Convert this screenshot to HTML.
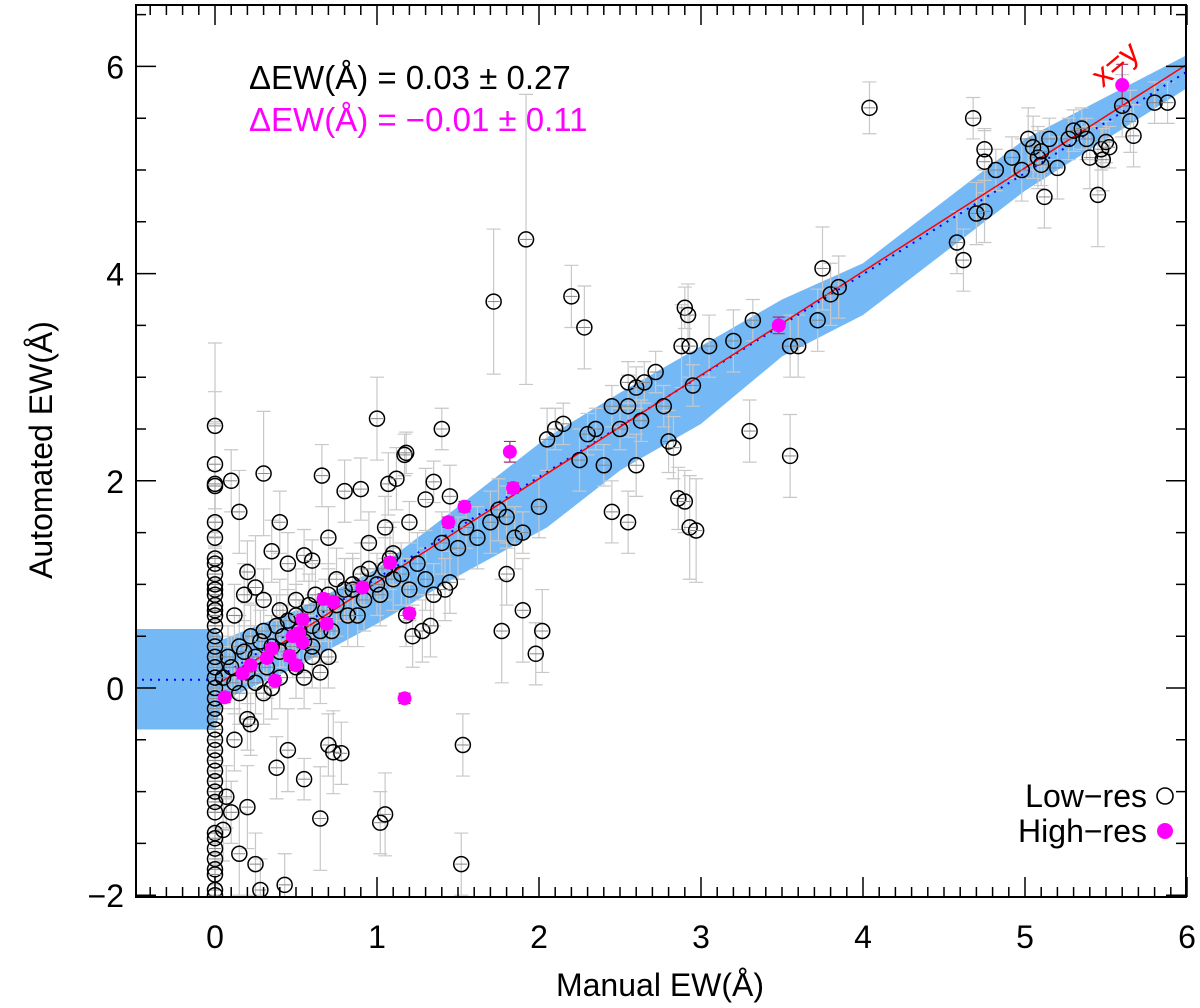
<!DOCTYPE html>
<html><head><meta charset="utf-8"><style>
body{margin:0;background:#fff;}
svg{display:block;font-family:"Liberation Sans",Arial,sans-serif;}
</style></head><body>
<svg id="chart" width="1200" height="1008" viewBox="0 0 1200 1008" xmlns="http://www.w3.org/2000/svg">
<defs><clipPath id="clip"><rect x="136" y="5" width="1050" height="892"/></clipPath></defs>
<g clip-path="url(#clip)">
<g id="band"></g>
<g id="errs"></g>
<g id="lines"></g>
<g id="pts"></g>
</g>
<g id="axes"></g>
<text x="249" y="89" font-size="33" fill="#000">ΔEW(Å) = 0.03 ± 0.27</text>
<text x="249" y="131" font-size="33" fill="#ff00ff">ΔEW(Å) = −0.01 ± 0.11</text>
<text x="1122" y="72" font-size="32" fill="#ff0000" transform="rotate(-40 1122 72)" text-anchor="middle">x=y</text>
<g>
<text x="1147" y="807" font-size="32" text-anchor="end">Low−res</text>
<circle cx="1165" cy="796" r="8" fill="none" stroke="#000" stroke-width="1.6"/>
<text x="1147" y="842" font-size="32" text-anchor="end">High−res</text>
<circle cx="1165" cy="831" r="8" fill="#ff00ff"/>
</g>
<text x="660" y="996" font-size="32" text-anchor="middle">Manual EW(Å)</text>
<text x="52" y="450" font-size="32" text-anchor="middle" transform="rotate(-90 52 450)">Automated EW(Å)</text>
</svg>
<script>
const xTicks=[0,1,2,3,4,5,6];
const yTicks=[-2,0,2,4,6];
const bandX=[-0.5,0,0.05,0.5,1.0,1.5,2.05,2.5,3.0,3.5,4.0,5.0,6.0];
const bandLo=[-0.4,-0.4,-0.12,0.2,0.62,1.08,1.55,2.1,2.55,3.2,3.6,4.8,5.79];
const bandHi=[0.57,0.57,0.47,0.75,1.15,1.75,2.42,2.85,3.3,3.75,4.1,5.3,6.11];
const fitX=[-0.5,0,6];
const fitY=[0.08,0.08,5.95];
const lowX=[0,0,0,0,0,0,0,0,0,0,0,0,0,0,0,0,0,0,0,0,0,0,0,0,0,0,0,0,0,0,0,0,0,0,0,0,0,0,0,0,0,0,
0.1,0.15,0.2,0.25,0.3,0.35,0.4,0.45,0.55,0.6,0.5,0.66,0.8,0.9,1.0,1.07,1.12,1.17,1.18,1.3,1.35,1.4,1.45,1.2,0.7,0.75,0.85,0.95,1.05,1.1,1.25,1.3,1.35,1.4,1.5,1.55,1.62,1.7,1.75,1.8,1.72,1.92,1.8,1.77,1.9,1.98,2.02,1.85,1.9,2.0,2.05,2.1,2.15,2.2,2.28,2.25,2.3,2.35,2.45,2.4,2.45,2.5,2.55,2.55,2.55,2.6,2.6,2.63,2.65,2.72,2.77,2.8,2.83,2.86,2.9,2.88,2.9,2.92,2.93,2.95,2.93,2.97,3.05,3.2,3.32,3.3,3.55,3.55,3.6,3.72,3.75,3.8,3.85,4.04,4.58,4.62,4.68,4.7,4.75,4.75,4.75,4.82,4.92,4.98,5.02,5.05,5.08,5.1,5.1,5.12,5.15,5.2,5.27,5.3,5.35,5.38,5.4,5.45,5.47,5.48,5.5,5.52,5.6,5.65,5.67,5.8,5.88,
0.43,0.38,0.55,0.65,0.7,0.73,0.78,1.02,1.05,1.52,1.53,0.45,0.1,0.2,0.25,0.15,0.28,0.05,0.07,0.12,0.2,0.22,
0.05,0.08,0.1,0.12,0.15,0.18,0.2,0.22,0.25,0.28,0.3,0.32,0.35,0.38,0.4,0.42,0.45,0.48,0.5,0.52,0.55,0.58,0.6,0.62,0.65,0.68,0.7,0.75,0.8,0.82,0.85,0.9,0.92,0.95,1.0,1.02,1.05,1.08,1.1,1.15,1.2,0.3,0.35,0.4,0.5,0.55,0.6,0.65,0.7,0.25,0.15,0.12,0.18,0.3,0.4,0.6,0.72,0.88,1.18,1.22,1.28,1.33,1.45,1.42];
const lowY=[2.53,2.16,1.97,1.95,1.6,1.45,1.25,1.2,1.1,1.0,0.95,0.9,0.8,0.75,0.7,0.6,0.5,0.4,0.3,0.2,0.1,0.0,-0.1,-0.2,-0.3,-0.4,-0.5,-0.6,-0.7,-0.8,-0.9,-1.0,-1.1,-1.2,-1.4,-1.45,-1.55,-1.65,-1.75,-1.8,-1.95,-2.0,
2.0,1.7,1.12,0.97,2.07,1.32,1.6,1.2,1.28,1.23,0.85,2.05,1.9,1.92,2.6,1.97,2.02,2.25,2.27,1.82,1.99,2.5,1.85,1.6,1.45,1.05,0.95,1.4,1.55,1.3,1.2,1.05,0.9,1.4,1.35,1.55,1.45,1.6,1.72,1.65,3.73,4.33,1.1,0.55,0.75,0.33,0.55,1.45,1.5,1.75,2.4,2.5,2.55,3.78,3.48,2.2,2.45,2.5,1.7,2.15,2.72,2.5,2.72,1.6,2.95,2.9,2.15,2.58,2.95,3.05,2.72,2.38,2.32,1.83,1.8,3.3,3.67,3.6,3.3,2.92,1.55,1.52,3.3,3.35,3.55,2.48,2.24,3.3,3.3,3.55,4.05,3.8,3.87,5.6,4.3,4.13,5.5,4.58,4.6,5.08,5.2,5.0,5.12,5.0,5.3,5.22,5.12,5.05,5.18,4.74,5.3,5.02,5.3,5.38,5.4,5.3,5.12,4.76,5.2,5.1,5.27,5.22,5.62,5.47,5.33,5.65,5.65,
-1.9,-0.77,-0.88,-1.26,-0.55,-0.62,-0.63,-1.3,-1.22,-1.7,-0.55,-0.6,-1.2,-1.15,-1.7,-1.6,-1.95,-1.37,-1.05,-0.5,-0.3,-0.35,
0.1,0.3,0.2,0.05,0.4,0.35,0.15,0.5,0.3,0.45,0.55,0.2,0.4,0.6,0.35,0.5,0.65,0.4,0.7,0.55,0.45,0.8,0.6,0.9,0.55,0.75,0.9,0.8,0.95,0.7,1.0,1.1,0.85,1.15,1.0,0.9,1.15,1.25,1.05,1.1,0.95,-0.05,0.0,0.1,0.2,0.1,0.3,0.15,0.3,0.05,-0.05,0.7,0.9,0.85,0.75,0.4,0.55,0.7,0.7,0.5,0.55,0.6,1.02,0.95];
const lowErr=[0.8,0.7,0.6,0.6,0.5,0.5,0.4,0.4,0.4,0.3,0.3,0.3,0.3,0.3,0.3,0.3,0.3,0.3,0.3,0.3,0.3,0.3,0.3,0.3,0.3,0.3,0.4,0.4,0.4,0.4,0.5,0.5,0.5,0.5,0.5,0.6,0.6,0.6,0.6,0.6,0.6,0.6,
0.3,0.4,0.3,0.5,0.6,0.3,0.3,0.3,0.25,0.2,0.3,0.3,0.3,0.3,0.4,0.3,0.3,0.2,0.2,0.3,0.2,0.2,0.3,0.2,0.3,0.3,0.3,0.3,0.3,0.3,0.3,0.3,0.3,0.3,0.3,0.2,0.3,0.3,0.3,0.3,0.7,1.4,0.3,0.5,0.5,0.3,0.4,0.3,0.2,0.3,0.3,0.2,0.2,0.3,0.4,0.3,0.2,0.2,0.3,0.2,0.2,0.2,0.3,0.3,0.2,0.2,0.3,0.2,0.2,0.2,0.2,0.3,0.3,0.3,0.3,0.4,0.2,0.3,0.3,0.2,0.5,0.5,0.3,0.3,0.2,0.3,0.4,0.3,0.3,0.3,0.4,0.3,0.3,0.25,0.3,0.3,0.2,0.3,0.3,0.3,0.2,0.2,0.2,0.3,0.3,0.3,0.3,0.2,0.2,0.3,0.2,0.3,0.2,0.2,0.2,0.2,0.3,0.5,0.2,0.3,0.2,0.2,0.3,0.3,0.3,0.2,0.2,
0.3,0.3,0.2,0.5,0.3,0.4,0.3,0.3,0.4,0.3,0.3,0.4,0.3,0.4,0.3,0.4,0.3,0.3,0.3,0.3,0.3,0.3,
0.3,0.3,0.3,0.3,0.3,0.3,0.3,0.3,0.3,0.3,0.3,0.3,0.3,0.3,0.3,0.3,0.3,0.3,0.3,0.3,0.3,0.3,0.3,0.3,0.3,0.3,0.3,0.3,0.3,0.3,0.3,0.3,0.3,0.3,0.3,0.3,0.3,0.3,0.3,0.3,0.3,0.3,0.3,0.3,0.3,0.3,0.3,0.3,0.3,0.3,0.3,0.3,0.3,0.3,0.3,0.3,0.3,0.3,0.3,0.3,0.3,0.3,0.3,0.3];
const highX=[0.06,0.17,0.22,0.32,0.35,0.37,0.46,0.5,0.48,0.52,0.54,0.54,0.67,0.73,0.69,0.91,1.08,1.2,1.17,1.44,1.54,1.82,1.84,3.48,5.6];
const highY=[-0.09,0.14,0.22,0.29,0.38,0.07,0.31,0.22,0.5,0.53,0.66,0.44,0.86,0.83,0.62,0.97,1.21,0.72,-0.1,1.6,1.75,2.28,1.93,3.5,5.82];
const highErr=[0.05,0.05,0.05,0.05,0.05,0.05,0.05,0.05,0.05,0.05,0.05,0.05,0.05,0.05,0.05,0.05,0.05,0.05,0.05,0.05,0.05,0.1,0.05,0.08,0.2];

const NS="http://www.w3.org/2000/svg";
const L=136,R=1186,T=5,B=897;
function sx(v){return 215+v*162.0;}
function sy(v){return 688-v*103.6;}
function mk(tag,parent,attrs){const e=document.createElementNS(NS,tag);for(const k in attrs)e.setAttribute(k,attrs[k]);parent.appendChild(e);return e;}
const band=document.getElementById('band');
let d='';
bandX.forEach((x,i)=>{d+=(i?'L':'M')+sx(x)+','+sy(bandHi[i]);});
for(let i=bandX.length-1;i>=0;i--)d+='L'+sx(bandX[i])+','+sy(bandLo[i]);
const bp=mk('path',band,{d:d+'Z',fill:'#74b9f5'});



const errs=document.getElementById('errs');
const pts=document.getElementById('pts');
lowX.forEach((x,i)=>{
  const px=sx(x),py=sy(lowY[i]),e=lowErr[i]*103.6;
  const g=mk('path',errs,{d:`M${px},${py-e}V${py+e}M${px-7},${py-e}H${px+7}M${px-7},${py+e}H${px+7}`,stroke:'#c8c8c8','stroke-width':1.2,fill:'none'});
  
  
});
highX.forEach((x,i)=>{
  const px=sx(x),py=sy(highY[i]),e=highErr[i]*103.6;
  const g=mk('path',errs,{d:`M${px},${py-e}V${py+e}M${px-6},${py-e}H${px+6}M${px-6},${py+e}H${px+6}`,stroke:'#a0306a','stroke-width':1.2,fill:'none'});
  
  
});
const lines=document.getElementById('lines');
let fd='';fitX.forEach((x,i)=>{fd+=(i?'L':'M')+sx(x)+','+sy(fitY[i]);});
const fl=mk('path',lines,{d:fd,stroke:'#0000ff','stroke-width':2,'stroke-dasharray':'2,6',fill:'none'});


const xl=mk('line',lines,{x1:sx(0),y1:sy(0.02),x2:sx(6),y2:sy(6.02),stroke:'#ff0000','stroke-width':1.5});



lowX.forEach((x,i)=>{
  const px=sx(x),py=sy(lowY[i]);
  const c=mk('circle',pts,{cx:px,cy:py,r:7.5,fill:'none',stroke:'#000','stroke-width':1.5});
  
  
  const h=mk('line',pts,{x1:px-6,y1:py,x2:px+6,y2:py,stroke:'#888','stroke-width':1});
  
  
});
highX.forEach((x,i)=>{
  const c=mk('circle',pts,{cx:sx(x),cy:sy(highY[i]),r:7,fill:'#ff00ff'});
  
  
});

const ax=document.getElementById('axes');
const fr=mk('rect',ax,{x:L,y:T,width:R-L,height:B-T,fill:'none',stroke:'#000','stroke-width':2});


let td='';
for(let k=-4;k<=60;k++){const v=k/10;const p=sx(v);const maj=k%10===0;const len=maj?20:10;td+=`M${p},${B}v${-len}M${p},${T}v${len}`;}
for(let k=-4;k<=13;k++){const v=k/2;const p=sy(v);const maj=k%4===0;const len=maj?20:10;td+=`M${L},${p}h${len}M${R},${p}h${-len}`;}
const tk=mk('path',ax,{d:td,stroke:'#000','stroke-width':1.5,fill:'none'});


xTicks.forEach(v=>{
  const t=mk('text',ax,{x:sx(v),y:948,'font-size':32,'text-anchor':'middle'});
  t.textContent=String(v);
  
  
});
yTicks.forEach(v=>{
  const t=mk('text',ax,{x:124,y:sy(v)+12,'font-size':32,'text-anchor':'end'});
  t.textContent=v<0?'−'+Math.abs(v):String(v);
  
  
});
</script>
</body></html>
